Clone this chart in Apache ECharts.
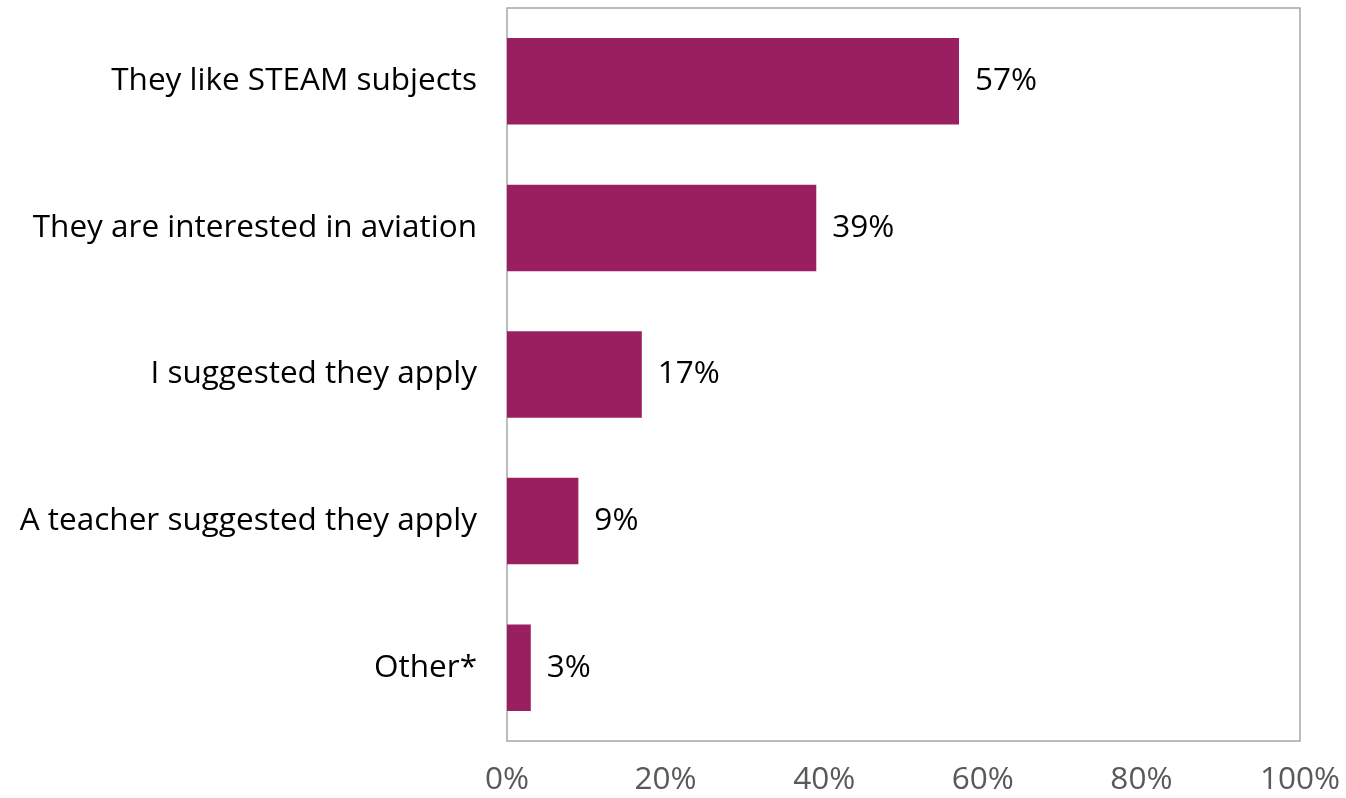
<!DOCTYPE html>
<html>
<head>
<meta charset="utf-8">
<script src="https://cdn.jsdelivr.net/npm/echarts@6/dist/echarts.min.js"></script>
<style>
  html, body { margin: 0; padding: 0; background: #fff; }
  #chart { width: 1346px; height: 798px; }
</style>
</head>
<body>
<div id="chart"></div>
<script>
// Reasons given for applying, share of respondents (%)
const categories = [
  'They like STEAM subjects',
  'They are interested in aviation',
  'I suggested they apply',
  'A teacher suggested they apply',
  'Other*'
];
const shares = [57, 39, 17, 9, 3];
const axisTicks = [0, 20, 40, 60, 80, 100];

const FONT = '"Open Sans", Lato, sans-serif';
const chart = echarts.init(document.getElementById('chart'), null, { renderer: 'canvas' });

chart.setOption({
  animation: false,
  backgroundColor: '#ffffff',
  grid: {
    left: 507, right: 46, top: 8, bottom: 57,
    show: true, borderColor: '#A6A6A6', borderWidth: 1.5,
    containLabel: false
  },
  xAxis: {
    type: 'value',
    min: axisTicks[0],
    max: axisTicks[axisTicks.length - 1],
    interval: 20,
    axisLine: { show: false },
    axisTick: { show: false },
    splitLine: { show: false },
    axisLabel: {
      formatter: v => v + '%',
      color: '#595959',
      fontFamily: FONT,
      fontSize: 31.5,
      margin: 23
    }
  },
  yAxis: {
    type: 'category',
    data: categories,
    inverse: true,
    axisLine: { show: false },
    axisTick: { show: false },
    axisLabel: {
      color: '#000000',
      fontFamily: FONT,
      fontSize: 31.5,
      margin: 30
    }
  },
  series: [{
    type: 'bar',
    data: shares,
    barCategoryGap: '41%',
    itemStyle: { color: '#9A1F61' },
    label: {
      show: true,
      position: 'right',
      distance: 16,
      formatter: p => p.value + '%',
      color: '#000000',
      fontFamily: FONT,
      fontSize: 31.5
    }
  }]
});
</script>
</body>
</html>
